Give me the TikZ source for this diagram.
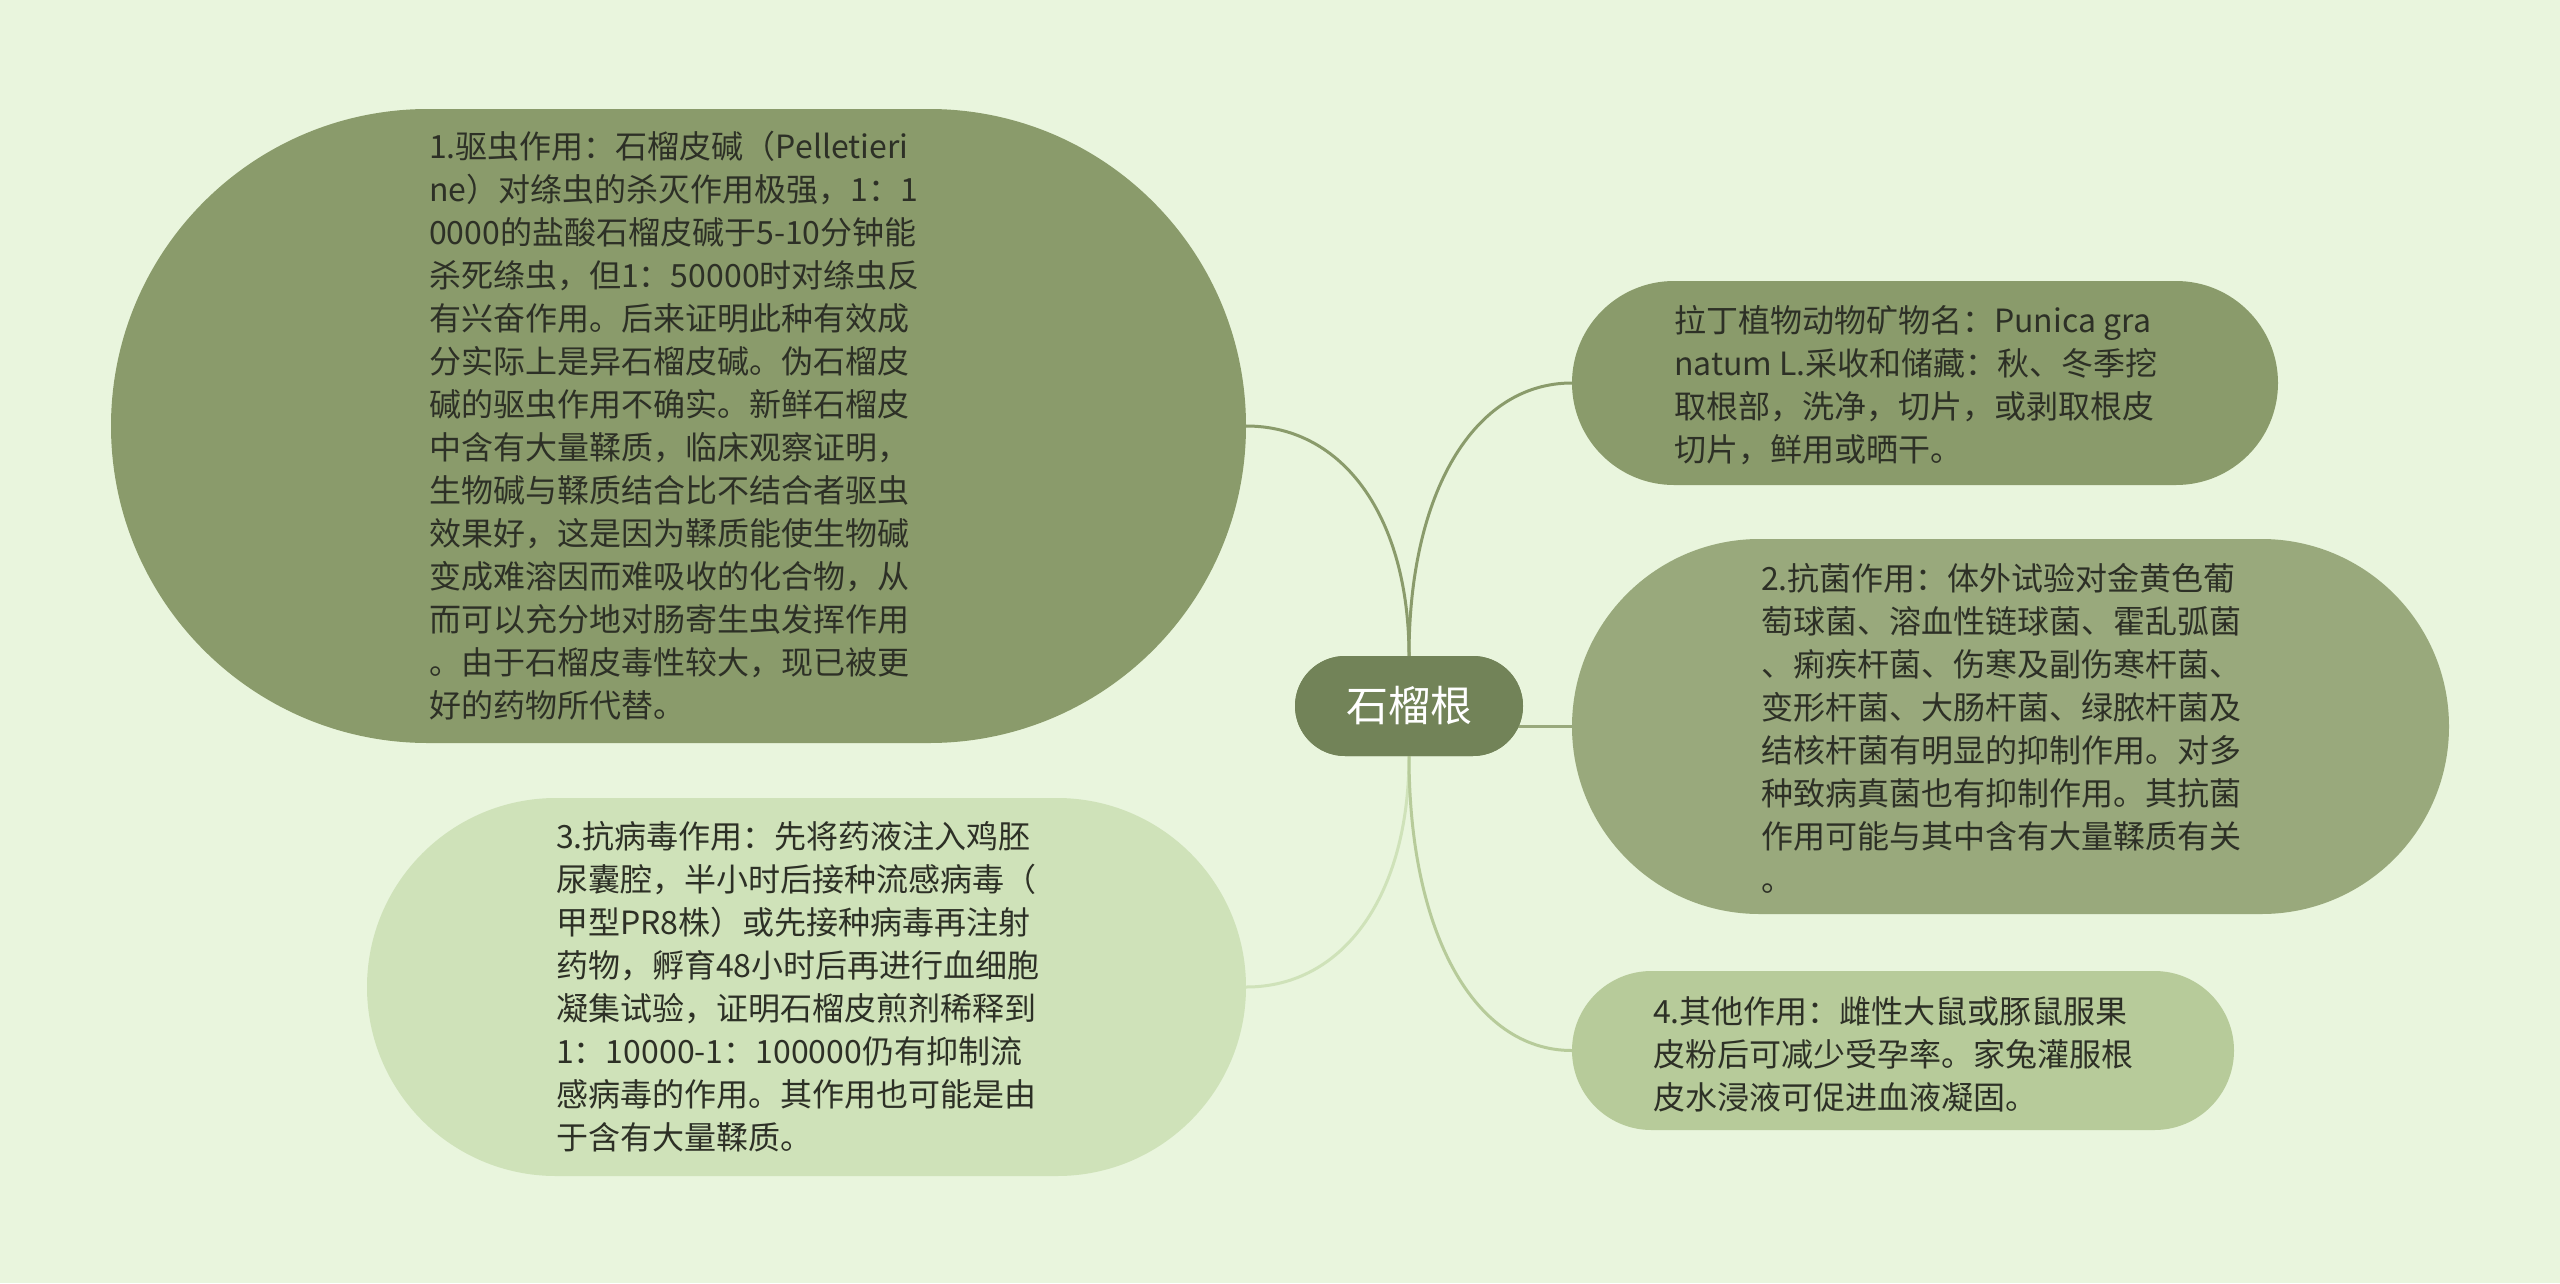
\documentclass[tikz,border=0pt]{standalone}
\usepackage{fontspec}
\setmainfont{Noto Sans CJK SC}
\usetikzlibrary{shapes.misc,calc}
\definecolor{bg}{RGB}{233,245,221}
\definecolor{cA}{RGB}{138,155,107}
\definecolor{cB}{RGB}{153,169,124}
\definecolor{cC}{RGB}{207,226,185}
\definecolor{cD}{RGB}{183,203,154}
\definecolor{cRoot}{RGB}{114,131,88}
\definecolor{txtc}{RGB}{45,48,38}
\tikzset{
  bubble/.style={rounded rectangle, inner sep=0pt, draw=none},
  txt/.style={anchor=north west, align=left, inner sep=0pt, text=txtc, font=\fontsize{32}{43}\selectfont},
  link/.style={line width=3pt},
}
\begin{document}
\begin{tikzpicture}[x=1pt,y=-1pt]
\useasboundingbox (0,0) rectangle (2560,1283);
\fill[bg] (0,0) rectangle (2560,1283);

% shapes
\node[bubble, fill=cRoot, minimum width=228pt, minimum height=100pt] (root) at (1409,706) {};
\node[bubble, fill=cA, minimum width=1135pt, minimum height=634pt] (n1) at (678.5,426) {};
\node[bubble, fill=cA, minimum width=706pt, minimum height=204pt] (nl) at (1925,383) {};
\node[bubble, fill=cB, minimum width=877pt, minimum height=375pt] (n2) at (2010.5,726.5) {};
\node[bubble, fill=cC, minimum width=879pt, minimum height=378pt] (n3) at (806.5,987) {};
\node[bubble, fill=cD, minimum width=662pt, minimum height=159pt] (n4) at (1903,1050.5) {};

% connectors
\draw[link, cA] (root.north) .. controls ($(root.north)!0.6!(root.north |- n1.east)$) and ($(n1.east)!0.6!(root.north |- n1.east)$) .. (n1.east);
\draw[link, cA] (root.north) .. controls ($(root.north)!0.6!(root.north |- nl.west)$) and ($(nl.west)!0.6!(root.north |- nl.west)$) .. (nl.west);
\draw[link, cB] (root.center |- n2.west) -- (n2.west);
\draw[link, cC] (root.south) .. controls ($(root.south)!0.6!(root.south |- n3.east)$) and ($(n3.east)!0.6!(root.south |- n3.east)$) .. (n3.east);
\draw[link, cD] (root.south) .. controls ($(root.south)!0.6!(root.south |- n4.west)$) and ($(n4.west)!0.6!(root.south |- n4.west)$) .. (n4.west);

% redraw root on top of connector ends
\node[bubble, fill=cRoot, minimum width=228pt, minimum height=100pt, text=white, font=\fontsize{42}{50}\selectfont] (rootlabel) at (1409,706) {石榴根};

% texts
\node[txt] (t1) at (429,131) {1.驱虫作用：石榴皮碱（Pelletieri\\
ne）对绦虫的杀灭作用极强，1：1\\
0000的盐酸石榴皮碱于5-10分钟能\\
杀死绦虫，但1：50000时对绦虫反\\
有兴奋作用。后来证明此种有效成\\
分实际上是异石榴皮碱。伪石榴皮\\
碱的驱虫作用不确实。新鲜石榴皮\\
中含有大量鞣质，临床观察证明，\\
生物碱与鞣质结合比不结合者驱虫\\
效果好，这是因为鞣质能使生物碱\\
变成难溶因而难吸收的化合物，从\\
而可以充分地对肠寄生虫发挥作用\\
。由于石榴皮毒性较大，现已被更\\
好的药物所代替。};

\node[txt] (tl) at (1674,305) {拉丁植物动物矿物名：Punica gra\\
natum L.采收和储藏：秋、冬季挖\\
取根部，洗净，切片，或剥取根皮\\
切片，鲜用或晒干。};

\node[txt] (t2) at (1761,563) {2.抗菌作用：体外试验对金黄色葡\\
萄球菌、溶血性链球菌、霍乱弧菌\\
、痢疾杆菌、伤寒及副伤寒杆菌、\\
变形杆菌、大肠杆菌、绿脓杆菌及\\
结核杆菌有明显的抑制作用。对多\\
种致病真菌也有抑制作用。其抗菌\\
作用可能与其中含有大量鞣质有关\\
。};

\node[txt] (t3) at (556,821) {3.抗病毒作用：先将药液注入鸡胚\\
尿囊腔，半小时后接种流感病毒（\\
甲型PR8株）或先接种病毒再注射\\
药物，孵育48小时后再进行血细胞\\
凝集试验，证明石榴皮煎剂稀释到\\
1：10000-1：100000仍有抑制流\\
感病毒的作用。其作用也可能是由\\
于含有大量鞣质。};

\node[txt] (t4) at (1653,996) {4.其他作用：雌性大鼠或豚鼠服果\\
皮粉后可减少受孕率。家兔灌服根\\
皮水浸液可促进血液凝固。};
\end{tikzpicture}
\end{document}
